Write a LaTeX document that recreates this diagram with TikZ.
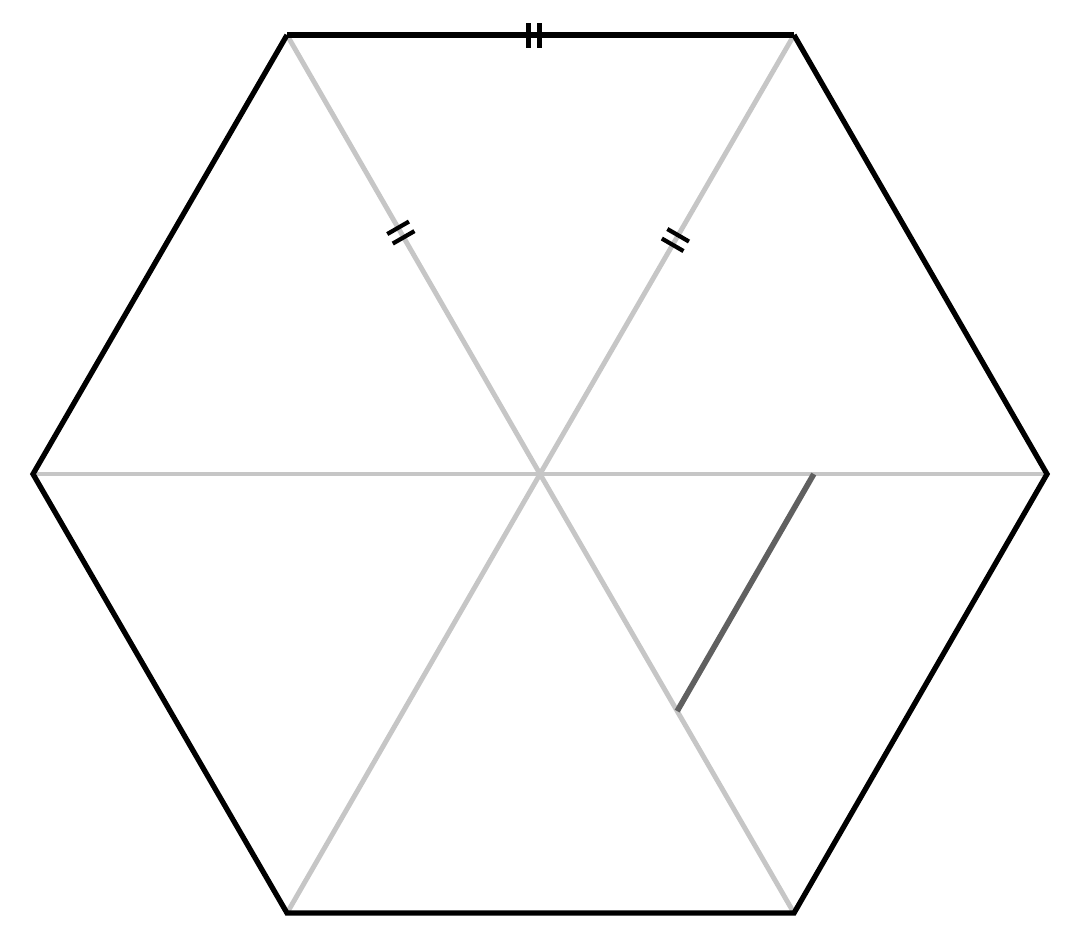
\documentclass[tikz,border=0pt]{standalone}
\usetikzlibrary{calc,decorations.markings}
\definecolor{spokegray}{RGB}{198,198,198}
\definecolor{seggray}{RGB}{96,96,96}
\tikzset{
  hexedge/.style={line width=1.5pt,black,line join=miter},
  spoke/.style={line width=1.4pt,spokegray},
  darkseg/.style={line width=1.6pt,seggray},
  ticks/.style={postaction={decorate,decoration={markings,
    mark=at position #1 with {
      \draw[black,line width=1.2pt] (-0.55mm,-1.25mm) -- (-0.55mm,1.25mm);
      \draw[black,line width=1.2pt] (0.55mm,-1.25mm) -- (0.55mm,1.25mm);}}}}
}
\begin{document}
\begin{tikzpicture}[x=0.01cm,y=-0.01cm]
\useasboundingbox (0,0) rectangle (1080,950);
\coordinate (O) at (540,474);
\coordinate (TL) at (287,35);
\coordinate (TR) at (794,35);
\coordinate (R) at (1047,474);
\coordinate (BR) at (794,913);
\coordinate (BL) at (287,913);
\coordinate (L) at (33,474);
% spokes
\draw[spoke] (L) -- (R);
\draw[spoke] (BL) -- (O);
\draw[spoke] (O) -- (BR);
\draw[spoke,ticks=0.45] (TL) -- (O);
\draw[spoke,ticks=0.467] (TR) -- (O);
% dark segment
\coordinate (P1) at ($(O)!0.54!(R)$);
\coordinate (P2) at ($(O)!0.54!(BR)$);
\draw[darkseg] (P1) -- (P2);
% hexagon
\draw[hexedge,ticks=0.487] (TL) -- (TR);
\draw[hexedge] (TR) -- (R) -- (BR) -- (BL) -- (L) -- (TL);
\end{tikzpicture}
\end{document}
